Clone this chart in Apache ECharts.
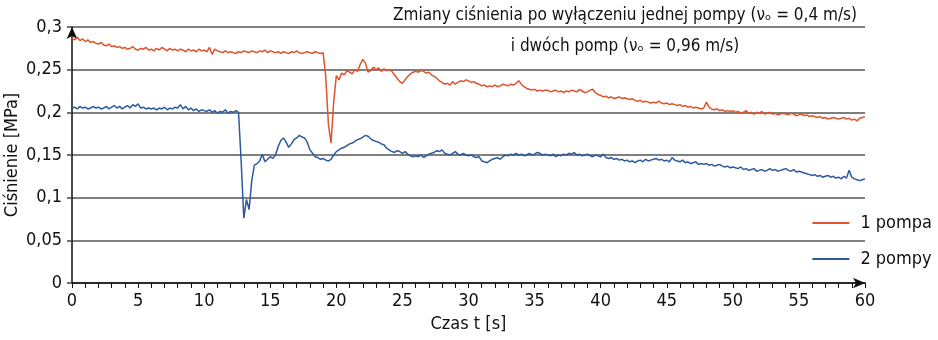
<!DOCTYPE html>
<html>
<head>
<meta charset="utf-8">
<script src="https://cdn.jsdelivr.net/npm/echarts@6/dist/echarts.min.js"></script>
<style>
  html, body { margin: 0; padding: 0; background: #fff; }
  #chart { width: 938px; height: 340px; }
</style>
</head>
<body>
<div id="chart"></div>
<script>
// sampling step of the recorded series [s]
const timeStep = 0.2;

// 1 pompa, pressure [MPa], one value per 0.2 s from t = 0 to 60
const onePump = [
  0.287,0.285,0.288,0.284,0.286,0.283,0.285,0.282,0.283,0.281,
  0.280,0.282,0.279,0.278,0.280,0.277,0.278,0.276,0.277,0.275,
  0.276,0.274,0.275,0.277,0.274,0.273,0.275,0.274,0.276,0.273,
  0.274,0.272,0.275,0.273,0.276,0.274,0.272,0.275,0.273,0.274,
  0.272,0.274,0.273,0.271,0.274,0.272,0.273,0.271,0.274,0.272,
  0.273,0.271,0.276,0.268,0.274,0.272,0.271,0.270,0.272,0.270,
  0.271,0.270,0.269,0.271,0.270,0.272,0.271,0.270,0.272,0.271,
  0.270,0.272,0.271,0.273,0.270,0.272,0.271,0.270,0.271,0.269,
  0.271,0.270,0.269,0.271,0.270,0.272,0.270,0.269,0.270,0.271,
  0.270,0.269,0.271,0.270,0.269,0.270,0.242,0.186,0.164,0.212,
  0.243,0.238,0.246,0.244,0.249,0.247,0.245,0.250,0.248,0.256,
  0.262,0.258,0.247,0.249,0.253,0.250,0.252,0.248,0.251,0.249,
  0.250,0.248,0.244,0.240,0.236,0.234,0.238,0.242,0.245,0.247,
  0.248,0.247,0.249,0.248,0.246,0.247,0.244,0.242,0.240,0.237,
  0.235,0.233,0.234,0.232,0.236,0.233,0.235,0.237,0.236,0.238,
  0.237,0.235,0.236,0.234,0.233,0.231,0.232,0.230,0.231,0.230,
  0.232,0.230,0.231,0.233,0.232,0.231,0.233,0.232,0.234,0.237,
  0.233,0.230,0.228,0.227,0.226,0.227,0.225,0.226,0.225,0.226,
  0.226,0.224,0.225,0.226,0.224,0.225,0.223,0.225,0.224,0.226,
  0.225,0.224,0.227,0.225,0.223,0.224,0.226,0.227,0.223,0.221,
  0.220,0.218,0.219,0.217,0.218,0.216,0.217,0.218,0.216,0.217,
  0.216,0.215,0.216,0.214,0.213,0.214,0.212,0.213,0.212,0.211,
  0.212,0.211,0.213,0.211,0.210,0.211,0.209,0.210,0.209,0.208,
  0.209,0.207,0.208,0.206,0.207,0.205,0.206,0.205,0.204,0.205,
  0.212,0.206,0.204,0.203,0.204,0.202,0.203,0.201,0.202,0.201,
  0.202,0.200,0.201,0.199,0.200,0.202,0.199,0.200,0.198,0.200,
  0.199,0.201,0.198,0.199,0.200,0.198,0.199,0.197,0.198,0.199,
  0.198,0.197,0.199,0.198,0.196,0.197,0.198,0.196,0.197,0.195,
  0.196,0.195,0.194,0.195,0.193,0.194,0.192,0.193,0.194,0.193,
  0.192,0.193,0.194,0.192,0.193,0.191,0.192,0.190,0.193,0.194,
  0.195
];

// 2 pompy, pressure [MPa], one value per 0.2 s from t = 0 to 60
const twoPumps = [
  0.205,0.206,0.204,0.207,0.205,0.206,0.204,0.205,0.207,0.205,
  0.206,0.204,0.205,0.207,0.204,0.206,0.208,0.205,0.207,0.204,
  0.206,0.208,0.205,0.209,0.207,0.210,0.205,0.206,0.204,0.205,
  0.204,0.205,0.203,0.205,0.204,0.206,0.203,0.205,0.204,0.206,
  0.205,0.209,0.204,0.207,0.203,0.205,0.202,0.204,0.201,0.203,
  0.202,0.201,0.203,0.200,0.202,0.199,0.201,0.200,0.203,0.199,
  0.201,0.200,0.202,0.200,0.142,0.076,0.098,0.086,0.120,0.138,
  0.140,0.143,0.151,0.142,0.145,0.148,0.146,0.150,0.160,0.167,
  0.170,0.165,0.159,0.163,0.168,0.170,0.173,0.171,0.170,0.165,
  0.156,0.152,0.148,0.147,0.145,0.146,0.144,0.143,0.145,0.150,
  0.154,0.156,0.158,0.159,0.161,0.163,0.164,0.166,0.168,0.169,
  0.171,0.173,0.172,0.169,0.167,0.166,0.165,0.163,0.162,0.158,
  0.156,0.154,0.153,0.155,0.154,0.152,0.154,0.151,0.149,0.148,
  0.149,0.148,0.150,0.147,0.149,0.151,0.152,0.153,0.155,0.154,
  0.156,0.152,0.151,0.150,0.152,0.154,0.151,0.150,0.152,0.150,
  0.149,0.150,0.148,0.147,0.148,0.143,0.142,0.141,0.143,0.145,
  0.146,0.147,0.145,0.148,0.150,0.149,0.151,0.150,0.152,0.150,
  0.151,0.149,0.150,0.152,0.150,0.151,0.153,0.152,0.150,0.151,
  0.150,0.149,0.151,0.148,0.150,0.149,0.151,0.150,0.152,0.151,
  0.153,0.150,0.151,0.149,0.150,0.151,0.149,0.148,0.150,0.149,
  0.148,0.151,0.147,0.146,0.147,0.145,0.146,0.144,0.145,0.143,
  0.144,0.142,0.143,0.141,0.143,0.144,0.142,0.145,0.143,0.144,
  0.145,0.146,0.144,0.145,0.143,0.144,0.142,0.147,0.144,0.143,
  0.142,0.144,0.141,0.142,0.140,0.141,0.142,0.139,0.140,0.139,
  0.140,0.138,0.139,0.137,0.138,0.139,0.137,0.136,0.137,0.135,
  0.136,0.135,0.134,0.136,0.133,0.134,0.132,0.133,0.134,0.131,
  0.132,0.133,0.131,0.132,0.134,0.132,0.133,0.131,0.132,0.133,
  0.134,0.132,0.131,0.133,0.130,0.131,0.130,0.129,0.128,0.127,
  0.126,0.127,0.125,0.126,0.124,0.125,0.126,0.124,0.125,0.123,
  0.124,0.122,0.125,0.123,0.132,0.124,0.122,0.121,0.120,0.121,
  0.122
];

const seriesNames = ["1 pompa", "2 pompy"];
const titleLines = [
  "Zmiany ciśnienia po wyłączeniu jednej pompy (νₒ = 0,4 m/s)",
  "i dwóch pomp (νₒ = 0,96 m/s)"
];

const font = "'Liberation Sans Narrow', 'DejaVu Sans Condensed', 'Roboto', sans-serif";

// pair every value with its time
function toPoints(values) {
  return values.map((v, i) => [+(i * timeStep).toFixed(1), v]);
}

const chart = echarts.init(document.getElementById("chart"));

chart.setOption({
  animation: false,
  textStyle: { fontFamily: font },
  title: {
    text: titleLines.join("\n"),
    left: 625,
    top: 0,
    padding: 0,
    textAlign: "center",
    textStyle: { fontFamily: font, fontSize: 17, fontWeight: "normal", color: "#111", lineHeight: 31 }
  },
  legend: {
    orient: "vertical",
    right: 1,
    top: 209,
    icon: "rect",
    itemWidth: 37,
    itemHeight: 2,
    itemGap: 18,
    textStyle: { fontFamily: font, fontSize: 18, color: "#111", padding: [0, 0, 0, 6] },
    data: seriesNames
  },
  grid: { left: 72, right: 73, top: 27, bottom: 57, outerBoundsMode: "none" },
  xAxis: {
    type: "value",
    min: 0,
    max: 60,
    interval: 5,
    name: "Czas t [s]",
    nameLocation: "middle",
    nameGap: 32,
    nameMoveOverlap: false,
    nameTextStyle: { fontFamily: font, fontSize: 18, color: "#111" },
    axisLine: { show: true, symbol: ["none", "arrow"], symbolSize: [8, 12], lineStyle: { color: "#111", width: 1.5 } },
    axisTick: { show: true, length: 5, lineStyle: { color: "#111" } },
    minorTick: { show: true, splitNumber: 5, length: 5, lineStyle: { color: "#111" } },
    axisLabel: { margin: 9, fontFamily: font, fontSize: 18, color: "#111" },
    splitLine: { show: false }
  },
  yAxis: {
    type: "value",
    min: 0,
    max: 0.3,
    interval: 0.05,
    name: "Ciśnienie [MPa]",
    nameLocation: "middle",
    nameGap: 51,
    nameMoveOverlap: false,
    nameTextStyle: { fontFamily: font, fontSize: 18, color: "#111" },
    axisLine: { show: true, symbol: ["none", "arrow"], symbolSize: [8, 12], lineStyle: { color: "#111", width: 1.5 } },
    axisTick: { show: true, length: 5, lineStyle: { color: "#444", width: 1.5 } },
    axisLabel: {
      margin: 10,
      fontFamily: font,
      fontSize: 18,
      color: "#111",
      formatter: v => String(+v.toFixed(2)).replace(".", ",")
    },
    splitLine: { show: true, lineStyle: { color: "#555", width: 1.5 } }
  },
  series: [
    {
      name: seriesNames[0],
      type: "line",
      symbol: "none",
      data: toPoints(onePump),
      lineStyle: { color: "#e0532d", width: 1.5 },
      itemStyle: { color: "#e0532d" }
    },
    {
      name: seriesNames[1],
      type: "line",
      symbol: "none",
      data: toPoints(twoPumps),
      lineStyle: { color: "#2c5aa0", width: 1.5 },
      itemStyle: { color: "#2c5aa0" }
    }
  ]
});
</script>
</body>
</html>
